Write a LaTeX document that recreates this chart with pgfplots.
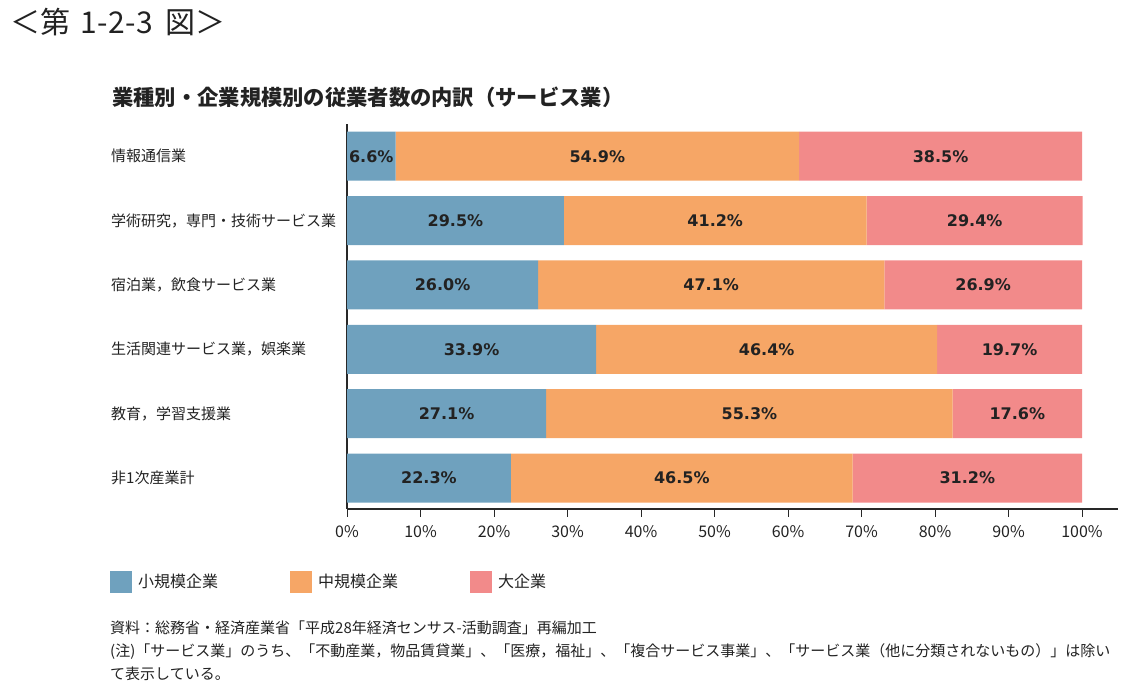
\documentclass[border=0pt]{standalone}
\usepackage{pgfplots}
\pgfplotsset{compat=1.18}
\usepackage{pgfplotstable}
\usepackage{fontspec}
\setmainfont{Noto Sans CJK JP}
\newfontfamily\valfont{DejaVu Sans}

\definecolor{smallco}{RGB}{111,161,190}
\definecolor{midco}{RGB}{246,166,102}
\definecolor{largeco}{RGB}{242,138,138}
\definecolor{txt}{RGB}{34,34,34}
\definecolor{axisco}{RGB}{40,40,40}

% employees by firm size, service industries (%), bottom row first
\pgfplotstableread{
y small mid large
0 22.3 46.5 31.2
1 27.1 55.3 17.6
2 33.9 46.4 19.7
3 26.0 47.1 26.9
4 29.5 41.2 29.4
5 6.6 54.9 38.5
}\servicedata
% centre of each stacked segment, for the value labels
\pgfplotstablecreatecol[create col/expr={\thisrow{small}/2}]{smallc}\servicedata
\pgfplotstablecreatecol[create col/expr={\thisrow{small}+\thisrow{mid}/2}]{midc}\servicedata
\pgfplotstablecreatecol[create col/expr={\thisrow{small}+\thisrow{mid}+\thisrow{large}/2}]{largec}\servicedata

\pgfplotsset{
  frame/.style={
    at={(347pt,190pt)}, anchor=south west,
    width=771pt, height=385pt, scale only axis,
    xmin=0, xmax=104.898, ymin=-0.48, ymax=5.5,
    /pgf/number format/assume math mode=true,
  },
  seglabel/.style={
    draw=none, mark=none,
    point meta=explicit,
    nodes near coords={\pgfmathprintnumber[fixed,fixed zerofill,precision=1]{\pgfplotspointmeta}\%},
    every node near coord/.append style={anchor=center,
      font=\valfont\bfseries\fontsize{16}{16}\selectfont, text=txt},
  },
}
\newcommand\hw[1]{\makebox[14pt]{#1}}

\begin{document}
\begin{tikzpicture}[x=1pt,y=1pt]
\useasboundingbox (0,0) rectangle (1136,699);

\node[anchor=west, inner sep=0pt, font=\fontsize{30}{30}\selectfont, text=txt] at (10,677)
  {＜第\hspace{12pt}\hw{1}\hw{-}\hw{2}\hw{-}\hw{3}\hspace{13pt}図＞};
\node[anchor=west, inner sep=0pt, font=\bfseries\fontsize{21.3}{21.3}\selectfont, text=txt] at (112,602) {業種別・企業規模別の従業者数の内訳（サービス業）};

\begin{axis}[
  frame,
  xbar stacked, bar width=49pt,
  axis lines*=left,
  axis line style={line width=1.5pt, color=axisco},
  xtick={0,10,...,100},
  xticklabel={\pgfmathprintnumber{\tick}\%},
  tick align=outside,
  major tick length=8pt,
  xtick style={line width=1pt, color=axisco},
  ytick={0,1,2,3,4,5},
  yticklabels={非1次産業計, {教育，学習支援業}, {生活関連サービス業，娯楽業}, {宿泊業，飲食サービス業}, {学術研究，専門・技術サービス業}, 情報通信業},
  ytick style={draw=none},
  yticklabel style={anchor=west, inner sep=0pt, xshift=-228pt, font=\fontsize{15}{15}\selectfont, text=txt},
  xticklabel style={font=\fontsize{16}{16}\selectfont, text=txt, yshift=-5pt},
  legend columns=3,
  legend cell align=left,
  legend style={at={(-0.3074,-0.1896)}, anchor=west, draw=none, fill=none, inner sep=0pt,
    nodes={inner sep=0pt}, font=\fontsize{16}{16}\selectfont, text=txt,
    /tikz/every odd column/.append style={column sep=6pt}},
  legend image code/.code={\fill[#1] (0pt,-11pt) rectangle (22pt,11pt);},
]
\addplot[fill=smallco, draw=none] table[x=small, y=y] {\servicedata};
\addplot[fill=midco, draw=none] table[x=mid, y=y] {\servicedata};
\addplot[fill=largeco, draw=none] table[x=large, y=y] {\servicedata};
\legend{\makebox[152pt][l]{小規模企業}, \makebox[152pt][l]{中規模企業}, \makebox[152pt][l]{大企業}}
\end{axis}

\begin{axis}[frame, hide axis]
\addplot[seglabel] table[x=smallc, y=y, meta=small] {\servicedata};
\addplot[seglabel] table[x=midc, y=y, meta=mid] {\servicedata};
\addplot[seglabel] table[x=largec, y=y, meta=large] {\servicedata};
\end{axis}

\begin{scope}[every node/.style={anchor=west, inner sep=0pt, font=\fontsize{15}{15}\selectfont, text=txt}]
\node at (110,71) {資料：総務省・経済産業省「平成28年経済センサス-活動調査」再編加工};
\node at (110,47) {(注)「サービス業」のうち、「不動産業，物品賃貸業」、「医療，福祉」、「複合サービス事業」、「サービス業（他に分類されないもの）」は除い};
\node at (110,25) {て表示している。};
\end{scope}
\end{tikzpicture}
\end{document}
